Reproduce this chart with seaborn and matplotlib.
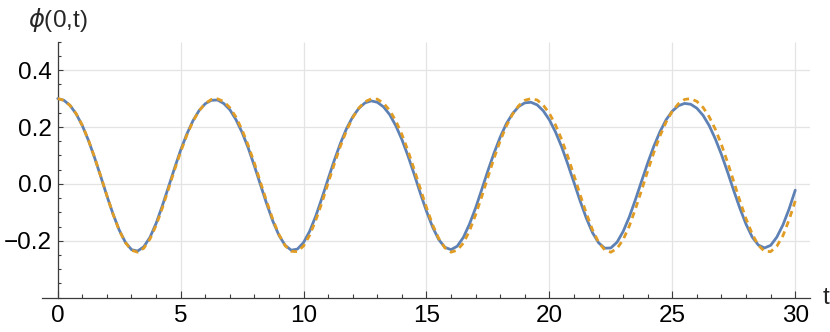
import numpy as np
import pandas as pd
import matplotlib
matplotlib.use("Agg")
import matplotlib.pyplot as plt
from matplotlib.ticker import MultipleLocator, FixedLocator
import seaborn as sns

# ---- data ----
t_start, t_end = 0.0, 30.0
blue = [0.300, 0.294, 0.276, 0.246, 0.205, 0.153, 0.092, 0.026, -0.042, -0.106,
        -0.162, -0.205, -0.231, -0.236, -0.221, -0.188, -0.139, -0.078, -0.012, 0.055,
        0.119, 0.175, 0.222, 0.258, 0.282, 0.294, 0.295, 0.283, 0.261, 0.226,
        0.181, 0.126, 0.063, -0.004, -0.070, -0.131, -0.181, -0.216, -0.233, -0.229,
        -0.206, -0.166, -0.112, -0.049, 0.018, 0.083, 0.143, 0.195, 0.236, 0.266,
        0.285, 0.292, 0.287, 0.271, 0.244, 0.205, 0.156, 0.098, 0.034, -0.033,
        -0.096, -0.152, -0.196, -0.223, -0.231, -0.219, -0.188, -0.141, -0.084, -0.019,
        0.047, 0.109, 0.165, 0.212, 0.247, 0.272, 0.285, 0.287, 0.278, 0.257,
        0.225, 0.182, 0.130, 0.069, 0.005, -0.060, -0.120, -0.171, -0.207, -0.226,
        -0.225, -0.205, -0.167, -0.116, -0.055, 0.010, 0.074, 0.133, 0.184, 0.226,
        0.256, 0.275, 0.283, 0.280, 0.266, 0.241, 0.205, 0.158, 0.103, 0.041,
        -0.024, -0.086, -0.142, -0.187, -0.215, -0.225, -0.216, -0.187, -0.144, -0.088,
        -0.022]
orange = [0.300, 0.294, 0.276, 0.247, 0.206, 0.154, 0.093, 0.027, -0.041, -0.106,
          -0.163, -0.206, -0.233, -0.240, -0.226, -0.194, -0.146, -0.086, -0.019, 0.049,
          0.113, 0.171, 0.220, 0.257, 0.283, 0.297, 0.299, 0.290, 0.268, 0.235,
          0.190, 0.135, 0.073, 0.005, -0.062, -0.125, -0.178, -0.217, -0.237, -0.238,
          -0.218, -0.180, -0.127, -0.065, 0.003, 0.070, 0.133, 0.188, 0.233, 0.267,
          0.289, 0.299, 0.298, 0.284, 0.259, 0.222, 0.174, 0.116, 0.051, -0.017,
          -0.083, -0.144, -0.192, -0.225, -0.240, -0.233, -0.208, -0.165, -0.108, -0.044,
          0.024, 0.091, 0.152, 0.204, 0.245, 0.275, 0.294, 0.300, 0.295, 0.277,
          0.248, 0.207, 0.156, 0.096, 0.030, -0.038, -0.103, -0.161, -0.205, -0.232,
          -0.240, -0.227, -0.196, -0.148, -0.088, -0.022, 0.046, 0.111, 0.169, 0.218,
          0.256, 0.282, 0.297, 0.300, 0.290, 0.269, 0.236, 0.192, 0.138, 0.075,
          0.008, -0.060, -0.123, -0.176, -0.216, -0.237, -0.238, -0.219, -0.182, -0.126,
          -0.060]
x_ticks = [0, 5, 10, 15, 20, 25, 30]
y_ticks = [-0.2, 0.0, 0.2, 0.4]
y_labels = ["\u22120.2", "0.0", "0.2", "0.4"]
y_label = r"$\phi$(0,t)"
x_label = "t"

t = np.linspace(t_start, t_end, len(blue))
df = pd.DataFrame({"t": t, "blue": blue, "orange": orange})

sns.set_style("white")
plt.rcParams["font.family"] = ["Liberation Sans", "DejaVu Sans"]
plt.rcParams["mathtext.fontset"] = "dejavusans"

W, H = 830, 332
fig = plt.figure(figsize=(W / 100, H / 100), dpi=100)
ax = fig.add_axes([42 / W, 1 - 297.7 / H, (810 - 42) / W, (297.7 - 41.7) / H])
ax.set_xlim(-0.64, 30.6)
ax.set_ylim(-0.4, 0.5)

grid_c = "#e4e4e4"
ax.vlines(x_ticks, -0.4, 0.5, colors=grid_c, lw=0.9, zorder=0)
ax.hlines(y_ticks, 0, 30.6, colors=grid_c, lw=0.9, zorder=0)

sns.lineplot(data=df, x="t", y="blue", ax=ax, color="#5E81B5", lw=2.0,
             zorder=3, estimator=None, sort=False)
sns.lineplot(data=df, x="t", y="orange", ax=ax, color="#E19C24", lw=2.0,
             zorder=4, estimator=None, sort=False)
ax.lines[-1].set_dashes([2.2, 1.7])
ax.lines[-1].set_dash_capstyle("butt")

for s in ["top", "right"]:
    ax.spines[s].set_visible(False)
axis_c = "#3c3c3c"
ax.spines["left"].set_position(("data", 0))
ax.spines["left"].set_color(axis_c)
ax.spines["bottom"].set_color(axis_c)
ax.spines["left"].set_linewidth(0.9)
ax.spines["bottom"].set_linewidth(0.9)

ax.xaxis.set_major_locator(FixedLocator(x_ticks))
ax.xaxis.set_minor_locator(MultipleLocator(1))
ax.yaxis.set_major_locator(FixedLocator(y_ticks))
ax.yaxis.set_minor_locator(MultipleLocator(0.05))
ax.set_xticklabels([str(v) for v in x_ticks])
ax.set_yticklabels(y_labels)

ax.tick_params(axis="both", which="both", bottom=True, left=True, top=False, right=False)
ax.tick_params(axis="x", which="major", direction="in", length=5.4, width=0.8,
               color=axis_c, pad=5, labelsize=17.5, labelcolor="black")
ax.tick_params(axis="x", which="minor", direction="in", length=2.9, width=0.8,
               color=axis_c)
ax.tick_params(axis="y", which="major", direction="in", length=3.6, width=0.8,
               color=axis_c, pad=4, labelsize=17.5, labelcolor="black")
ax.tick_params(axis="y", which="minor", direction="in", length=2.2, width=0.8,
               color=axis_c)
ax.set_xlabel("")
ax.set_ylabel("")

fig.text(57.7 / W, 1 - 20 / H, y_label, ha="center", va="center", fontsize=17.5)
fig.text(826 / W, 1 - 298 / H, x_label, ha="center", va="center", fontsize=17.5)

fig.savefig("out.png", dpi=100)
